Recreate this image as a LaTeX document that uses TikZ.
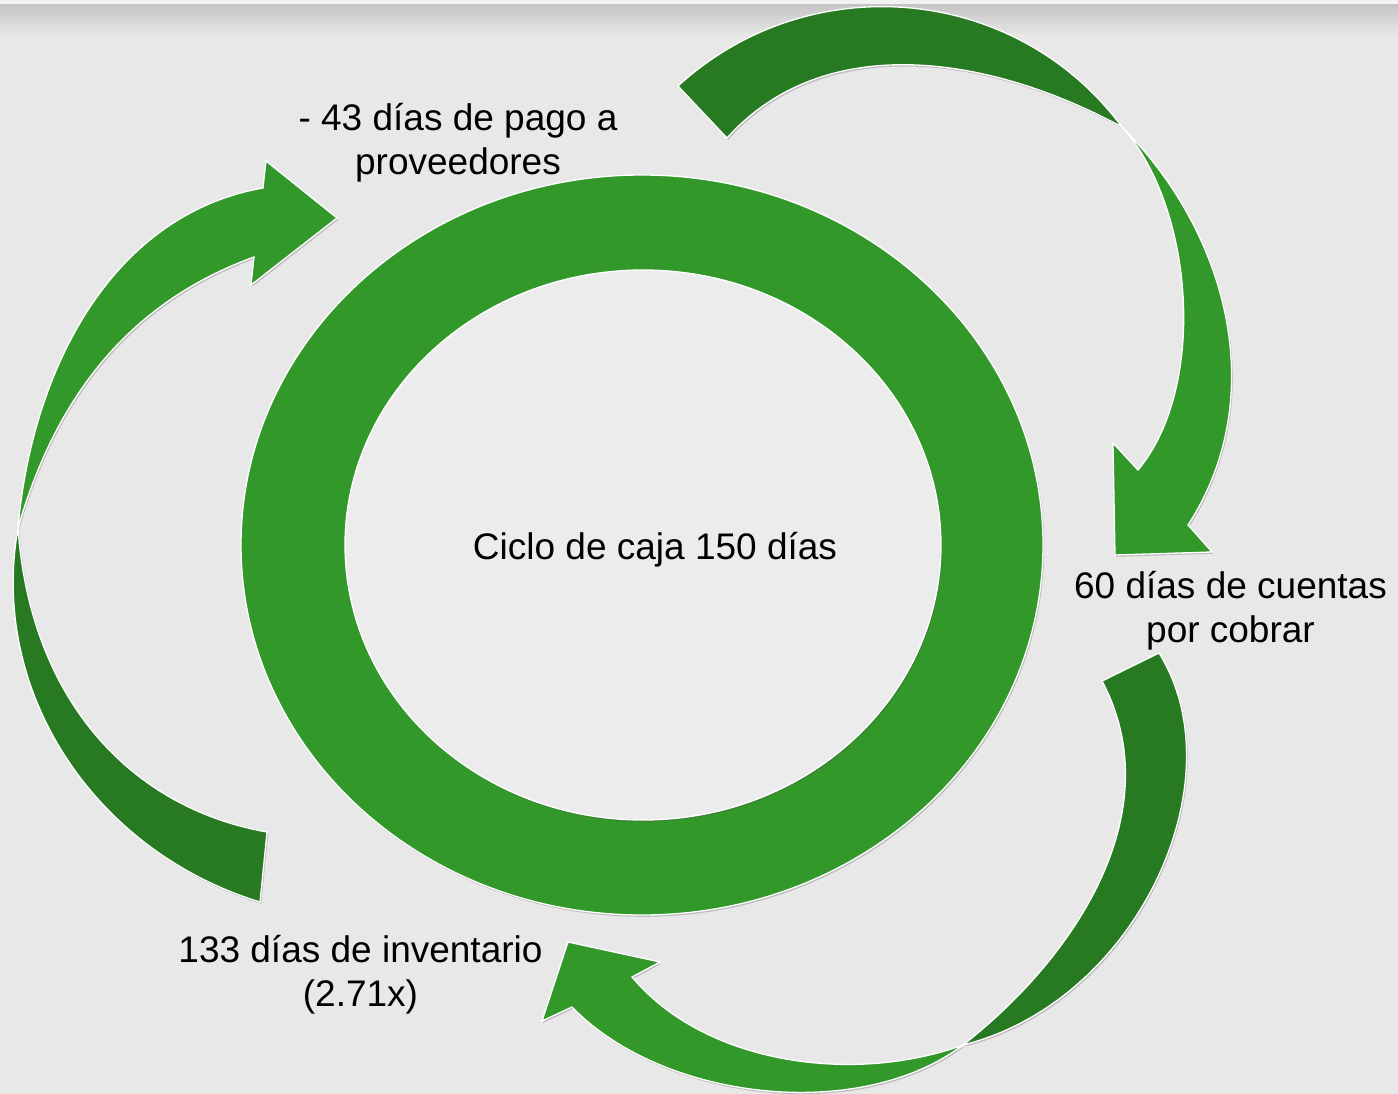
\documentclass[tikz,border=0pt]{standalone}
\usepackage{fontspec}
\setmainfont{Liberation Sans}
\usetikzlibrary{shadows}
\definecolor{bg}{RGB}{231,232,231}
\definecolor{bandtop}{RGB}{196,196,196}
\definecolor{bandlight}{RGB}{242,242,242}
\definecolor{holefill}{RGB}{236,236,236}
\definecolor{gl}{RGB}{50,152,42}
\definecolor{gd}{RGB}{39,122,34}
\begin{document}
\begin{tikzpicture}[x=1pt,y=-1pt,
  shp/.style={draw=white,line width=1.3pt,line join=miter,
    drop shadow={shadow xshift=1.2pt,shadow yshift=-1.8pt,opacity=0.28,fill=black!70}},
  lbl/.style={anchor=base,font=\fontsize{37}{44}\selectfont,text=black,inner sep=0pt}]
\useasboundingbox (0,0) rectangle (1398,1094);
% background
\fill[bg] (0,0) rectangle (1398,1094);
\shade[top color=bandtop,bottom color=bg] (0,4) rectangle (1398,36);
\fill[bandlight] (0,0) rectangle (1398,4);

% central ring
\path[fill=gl,shp] (642,545) ellipse [x radius=401, y radius=370];
\path[fill=holefill,shp] (643,545) ellipse [x radius=298, y radius=275];

% pinch points of the twisted arrows
\coordinate (p1) at (1122,127);
\coordinate (p2) at (18,528);
\coordinate (p3) at (963,1045);

% arrow 1 (top right): dark tail part
\path[fill=gd,shp] (678,86) .. controls (809,-34) and (1016,-16) .. (p1)
  .. controls (992.2,56.5) and (825.8,28.2) .. (727,138) -- cycle;
% arrow 1: light head part
\path[fill=gl,shp] (p1) .. controls (1229,234) and (1270.4,398.1) .. (1188,525)
  -- (1212,552) -- (1115,555) -- (1113,443) -- (1138,470)
  .. controls (1207.4,387.3) and (1194.3,207.2) .. (p1) -- cycle;

% arrow 2 (left): dark tail part
\path[fill=gd,shp] (p2) .. controls (-11.5,695.2) and (97.6,852.4) .. (260,902)
  -- (267,832) .. controls (129.1,807.7) and (29.9,697.7) .. (p2) -- cycle;
% arrow 2: light head part
\path[fill=gl,shp] (p2) .. controls (31.6,372.8) and (109.6,215.1) .. (263,188)
  -- (266,161) -- (337,218) -- (251,285) -- (254,257)
  .. controls (131.8,301.5) and (56.6,393.5) .. (p2) -- cycle;

% arrow 3 (bottom right): dark tail part
\path[fill=gd,shp] (1159,653) .. controls (1238.5,780.2) and (1137.6,1001.4) .. (p3)
  .. controls (1078,955) and (1170.6,810.1) .. (1102,681) -- cycle;
% arrow 3: light head part
\path[fill=gl,shp] (p3) .. controls (859.1,1123.3) and (662.4,1100.5) .. (572,1007)
  -- (542,1021) -- (568,942) -- (660,962) -- (632,977)
  .. controls (705.9,1065.1) and (854.9,1084.3) .. (p3) -- cycle;

% labels
\node[lbl] (center) at (655,559) {Ciclo de caja 150 días};
\node[lbl] (pay1) at (458,131) {- 43 días de pago a};
\node[lbl] (pay2) at (458,175) {proveedores};
\node[lbl] (rec1) at (1230.5,598) {60 días de cuentas};
\node[lbl] (rec2) at (1230.5,642) {por cobrar};
\node[lbl] (inv1) at (360.5,962) {133 días de inventario};
\node[lbl] (inv2) at (360.5,1006) {(2.71x)};
\end{tikzpicture}
\end{document}
